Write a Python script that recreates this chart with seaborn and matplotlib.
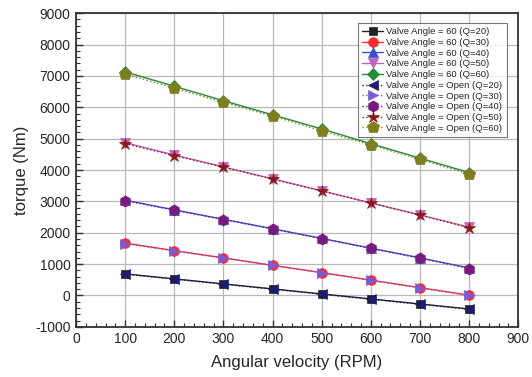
import matplotlib
matplotlib.use("Agg")
import matplotlib.pyplot as plt
import seaborn as sns
import pandas as pd
from matplotlib.ticker import MultipleLocator

rpm = [100, 200, 300, 400, 500, 600, 700, 800]

v60_q20 = [690, 530, 370, 210, 50, -110, -270, -430]
v60_q30 = [1670, 1430, 1200, 960, 730, 490, 250, 10]
v60_q40 = [3040, 2730, 2430, 2130, 1820, 1510, 1200, 880]
v60_q50 = [4870, 4480, 4100, 3720, 3340, 2950, 2570, 2180]
v60_q60 = [7130, 6670, 6210, 5760, 5310, 4840, 4380, 3920]

op_q20 = [680, 520, 360, 200, 40, -120, -280, -440]
op_q30 = [1650, 1420, 1190, 960, 720, 480, 240, 0]
op_q40 = [3020, 2720, 2420, 2120, 1810, 1500, 1190, 860]
op_q50 = [4840, 4460, 4090, 3710, 3330, 2950, 2560, 2160]
op_q60 = [7060, 6610, 6160, 5720, 5250, 4800, 4340, 3870]

labels = [
    "Valve Angle = 60 (Q=20)", "Valve Angle = 60 (Q=30)", "Valve Angle = 60 (Q=40)",
    "Valve Angle = 60 (Q=50)", "Valve Angle = 60 (Q=60)",
    "Valve Angle = Open (Q=20)", "Valve Angle = Open (Q=30)", "Valve Angle = Open (Q=40)",
    "Valve Angle = Open (Q=50)", "Valve Angle = Open (Q=60)",
]
series = [v60_q20, v60_q30, v60_q40, v60_q50, v60_q60,
          op_q20, op_q30, op_q40, op_q50, op_q60]
colors = ["#222222", "#ff2a2a", "#3a4fd0", "#c060c0", "#228b3a",
          "#1c1c78", "#7a5ad8", "#7a1a80", "#8b1a1a", "#7f7f1f"]
markers = ["s", "o", "^", "v", "D", "<", ">", "h", "*", "p"]
msizes = [6, 7, 7, 7, 6, 7, 7, 8, 9, 9]

sns.set_style("white")
plt.rcParams['font.family'] = ['Liberation Sans', 'DejaVu Sans']
plt.rcParams['axes.unicode_minus'] = False

fig = plt.figure(figsize=(5.32, 3.77), dpi=100)
ax = fig.add_axes([0.143, 0.133, 0.831, 0.832])

for i, (lab, vals) in enumerate(zip(labels, series)):
    df = pd.DataFrame({"rpm": rpm, "torque": vals})
    ls = "-" if i < 5 else ":"
    sns.lineplot(data=df, x="rpm", y="torque", ax=ax, color=colors[i],
                 marker=markers[i], markersize=msizes[i], linestyle=ls,
                 linewidth=1.0, markeredgewidth=0.5, markeredgecolor=colors[i],
                 label=lab, zorder=3 + i)

ax.set_xlim(0, 900)
ax.set_ylim(-1000, 9000)
ax.xaxis.set_major_locator(MultipleLocator(100))
ax.yaxis.set_major_locator(MultipleLocator(1000))
ax.xaxis.set_minor_locator(MultipleLocator(20))
ax.yaxis.set_minor_locator(MultipleLocator(200))
ax.grid(True, which="major", color="#b8b8b8", linewidth=0.9)
ax.tick_params(which="both", direction="in", top=False, right=False,
               bottom=True, left=True, color="#333333")
ax.tick_params(which="major", length=5, width=1, labelsize=10, pad=4)
ax.tick_params(which="minor", length=3, width=0.8)
for s in ax.spines.values():
    s.set_color("#333333")
    s.set_linewidth(1.3)

ax.set_xlabel("Angular velocity (RPM)", fontsize=12, labelpad=6)
ax.set_ylabel("torque (Nm)", fontsize=12, labelpad=4)

leg = ax.legend(loc="upper right", bbox_to_anchor=(0.985, 0.985), fontsize=6.8,
                frameon=True, fancybox=False, edgecolor="#555555",
                handlelength=2.2, handletextpad=0.3, labelspacing=0.18,
                borderpad=0.5)
leg.get_frame().set_linewidth(0.8)

fig.savefig("out.png", dpi=100)
